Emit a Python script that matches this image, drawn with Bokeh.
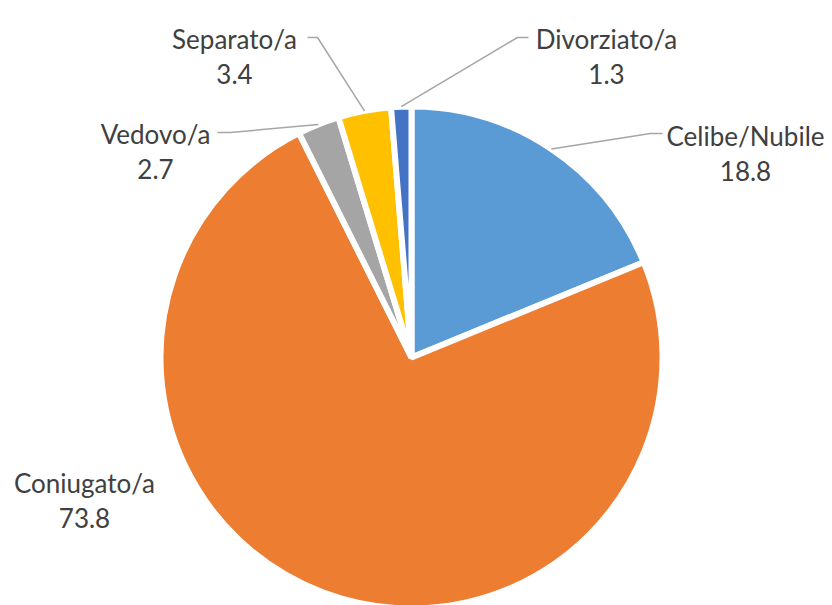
import numpy as np
from bokeh.plotting import figure
from bokeh.models import Range1d, ColumnDataSource
from bokeh.embed import file_html
from bokeh.resources import INLINE
from bokeh.core.properties import value

# ---- data ----
categories = ["Celibe/Nubile", "Coniugato/a", "Vedovo/a", "Separato/a", "Divorziato/a"]
values = [18.8, 73.8, 2.7, 3.4, 1.3]
value_labels = ["18.8", "73.8", "2.7", "3.4", "1.3"]
colors = ["#5B9BD5", "#ED7D31", "#A5A5A5", "#FFC000", "#4472C4"]

# ---- layout ----
W, H = 832, 605
OFF = 0


def Y(v):
    return H + OFF - v


def X(v):
    return v - OFF


cx, cy, R = X(411), Y(357), 251
label_x = [745, 84, 155, 234, 606]
label_y = [135, 482, 133, 38, 38]
line_gap = 35
elbows = [(650, 133, 662), None, (230, 132, 217), (317, 37, 307), (517, 37, 528)]

vals = np.array(values, dtype=float)
frac = vals / vals.sum()
cum_after = np.cumsum(frac)
cum_before = cum_after - frac
start = np.pi / 2 - 2 * np.pi * cum_before
end = np.pi / 2 - 2 * np.pi * cum_after
mid = 2 * np.pi * (cum_before + frac / 2)

p = figure(width=W, height=H, output_backend="svg", toolbar_location=None,
           x_range=Range1d(0, W), y_range=Range1d(0, H), min_border=0)
p.axis.visible = False
p.grid.visible = False
p.outline_line_color = None
p.background_fill_color = "white"
p.border_fill_color = "white"

src = ColumnDataSource(dict(start=start, end=end, color=colors, cat=categories))
p.wedge(x=cx, y=cy, radius=R, start_angle="start", end_angle="end", direction="clock",
        fill_color="color", line_color="white", line_width=6, source=src)

# leader lines
xs, ys = [], []
for i, e in enumerate(elbows):
    if e is None:
        continue
    sx = cx + R * np.sin(mid[i])
    sy = cy + R * np.cos(mid[i])
    xs.append([sx, X(e[0]), X(e[2])])
    ys.append([sy, Y(e[1]), Y(e[1])])
p.multi_line(xs, ys, line_color="#A6A6A6", line_width=1.5)

lx = [X(v) for v in label_x]
p.text(x=lx, y=[Y(v) for v in label_y], text=categories, text_align="center",
       text_baseline="alphabetic", text_font=value("Lato"), text_font_size="26px",
       text_color="#404040")
p.text(x=lx, y=[Y(v + line_gap) for v in label_y], text=value_labels, text_align="center",
       text_baseline="alphabetic", text_font=value("Lato"), text_font_size="26px",
       text_color="#404040")

open("out.html", "w").write(file_html(p, INLINE))
